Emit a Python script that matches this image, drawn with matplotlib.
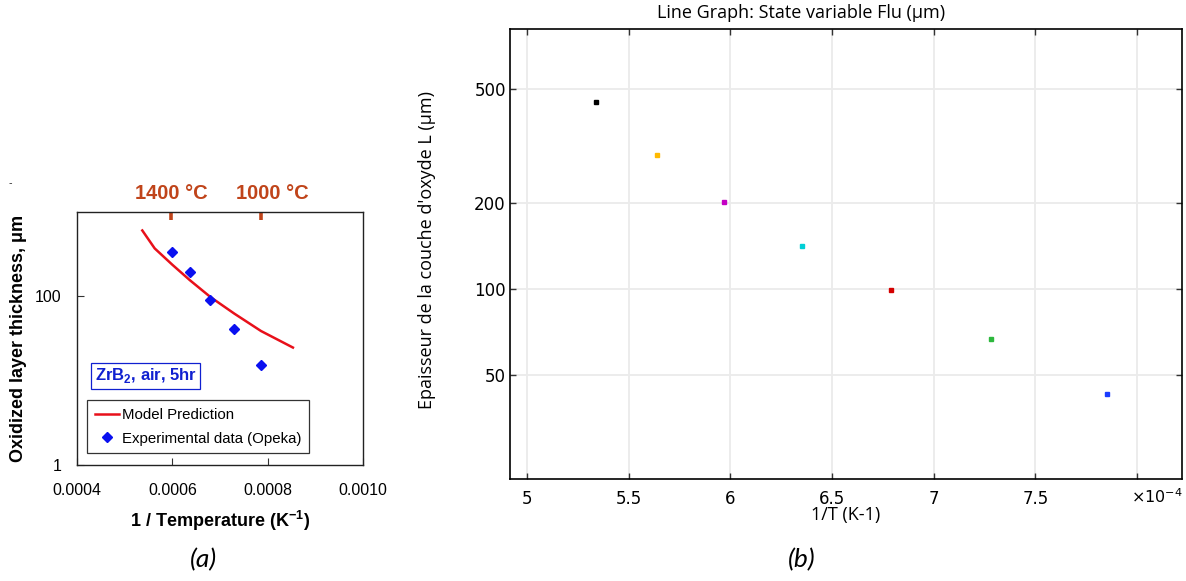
import matplotlib

matplotlib.use("Agg")
import matplotlib.pyplot as plt
import matplotlib.transforms as mtransforms

# panel (a): ZrB2 oxidation, model vs experiment
model_inv_t = [0.000537, 0.000563, 0.000600, 0.000637, 0.000680, 0.000730, 0.000786, 0.000853]
model_thick = [604, 370, 237, 155, 98, 62.4, 38.8, 24.7]
exp_inv_t = [0.000600, 0.000637, 0.000680, 0.000730, 0.000786]
exp_thick = [331, 194, 91, 41, 15.3]
temp_marks_c = [1400, 1000]
temp_labels = ["1400 °C", "1000 °C"]

# panel (b): simulated oxide thickness
sim_inv_t = [5.34e-4, 5.64e-4, 5.97e-4, 6.35e-4, 6.79e-4, 7.28e-4, 7.85e-4]
sim_thick = [451, 295, 202, 142, 99, 66.7, 42.9]
sim_colors = ["#000000", "#FFBA00", "#C400C4", "#00CFD6", "#D40000", "#2DB83D", "#1A3CFF"]
b_xticks = [5e-4, 5.5e-4, 6e-4, 6.5e-4, 7e-4, 7.5e-4, 8e-4]
b_xticklabels = ["5", "5.5", "6", "6.5", "7", "7.5", ""]
b_yticks = [50, 100, 200, 500]

plt.rcParams["mathtext.fontset"] = "custom"
plt.rcParams["mathtext.rm"] = "Liberation Sans"
plt.rcParams["mathtext.bf"] = "Liberation Sans:bold"

W, H = 1186, 581
fig = plt.figure(figsize=(W / 100, H / 100), dpi=100)


def px_axes(x0, y0, x1, y1):
    return fig.add_axes([x0 / W, 1 - y1 / H, (x1 - x0) / W, (y1 - y0) / H])


# ---------------- panel (a) ----------------
ax = px_axes(77, 212, 363, 465)
arial = "Liberation Sans"
ax.plot(model_inv_t, model_thick, color="#E8101A", lw=1.8, label="Model Prediction")
ax.plot(exp_inv_t, exp_thick, ls="none", marker="D", ms=5, color="#0A10F0",
        label="Experimental data (Opeka)")
ax.set_yscale("log")
ax.set_xlim(0.0004, 0.0010)
ax.set_ylim(1, 1000)
ax.set_xticks([0.0004, 0.0006, 0.0008, 0.0010])
ax.set_xticklabels(["0.0004", "0.0006", "0.0008", "0.0010"], family=arial, fontsize=11.5)
ax.set_yticks([1, 100])
ax.set_yticklabels(["1", "100"], family=arial, fontsize=11.5)
ax.yaxis.set_minor_locator(matplotlib.ticker.NullLocator())
ax.tick_params(direction="in", length=5, width=0.8, color="#333333")
ax.tick_params(axis="x", pad=13)
ax.tick_params(axis="y", pad=11)
for s in ax.spines.values():
    s.set_linewidth(1.0)
    s.set_color("#222222")
ax.set_xlabel(r"1 / Temperature (K$^{\mathbf{-1}}$)", family=arial, fontweight="bold", fontsize=13)
ax.xaxis.set_label_coords(0.5, -0.175)
ax.set_ylabel("Oxidized layer thickness, μm", family=arial, fontweight="bold", fontsize=13)
ax.yaxis.set_label_coords(-0.175, 0.5)

trans = mtransforms.blended_transform_factory(ax.transData, ax.transAxes)
label_shift = [0, 8]
for tc, lab, dx in zip(temp_marks_c, temp_labels, label_shift):
    xv = 1.0 / (tc + 273.15)
    ax.plot([xv, xv], [1.0, 0.97], transform=trans, color="#C0441A", lw=2.6,
            solid_capstyle="butt", clip_on=False)
    ax.annotate(lab, (xv, 1.075), xycoords=trans, xytext=(dx, 0), textcoords="offset points",
                ha="center", va="center", family=arial, fontweight="bold", fontsize=14.5,
                color="#C0441A", annotation_clip=False)

ax.text(0.24, 0.353, r"ZrB$_{\mathbf{2}}$, air, 5hr", transform=ax.transAxes, ha="center",
        va="center", family=arial, fontweight="bold", fontsize=12, color="#1020D0",
        bbox=dict(boxstyle="square,pad=0.22", fc="white", ec="#1020D0", lw=0.9))
leg = ax.legend(loc="lower left", bbox_to_anchor=(0.035, 0.047), prop={"family": arial, "size": 10.8},
                frameon=True, fancybox=False, handlelength=1.6, handletextpad=0.25,
                borderpad=0.5, labelspacing=0.65, borderaxespad=0)
leg.get_frame().set_edgecolor("black")
leg.get_frame().set_linewidth(0.9)
fig.text(203 / W, 1 - 560 / H, "(a)", ha="center", va="center", family="Lato",
         style="italic", fontsize=19)
fig.text(10 / W, 1 - 183 / H, "-", ha="center", va="center", fontsize=7, color="#333333")

# ---------------- panel (b) ----------------
bx = px_axes(510, 29.3, 1181.7, 479.3)
bx.set_yscale("log")
for xv, yv, c in zip(sim_inv_t, sim_thick, sim_colors):
    bx.plot(xv, yv, ls="none", marker="s", ms=3.4, color=c, mec=c)
bx.set_xlim(4.916e-4, 8.219e-4)
bx.set_ylim(21.6, 811)
bx.set_xticks(b_xticks)
bx.set_xticklabels(b_xticklabels, family="DejaVu Sans", fontsize=12)
bx.set_yticks(b_yticks)
bx.set_yticklabels([str(v) for v in b_yticks], family="DejaVu Sans", fontsize=12)
bx.yaxis.set_minor_locator(matplotlib.ticker.NullLocator())
bx.grid(True, color="#EBEBEB", lw=1.3)
bx.set_axisbelow(True)
bx.tick_params(direction="in", length=4, width=1.0, color="#333333", top=True, right=True)
bx.tick_params(axis="x", pad=8)
bx.tick_params(axis="y", pad=3)
for s in bx.spines.values():
    s.set_linewidth(1.2)
    s.set_color("black")
bx.set_xlabel("1/T (K-1)", family="Open Sans", fontsize=13)
bx.xaxis.set_label_coords(0.5, -0.06)
bx.set_ylabel("Epaisseur de la couche d'oxyde L (μm)", family="Open Sans", fontsize=13)
bx.yaxis.set_label_coords(-0.11, 0.51)
bx.text(0.433, 1.036, "Line Graph: State variable Flu (μm)", transform=bx.transAxes,
        ha="center", va="center", family="Open Sans", fontsize=13)
bx.text(0.924, -0.039, r"$\times10^{-4}$", transform=bx.transAxes, ha="left", va="center",
        fontsize=11.5, math_fontfamily="dejavusans")
fig.text(802 / W, 1 - 560 / H, "(b)", ha="center", va="center", family="Lato",
         style="italic", fontsize=19)

fig.savefig("out.png", dpi=100)
